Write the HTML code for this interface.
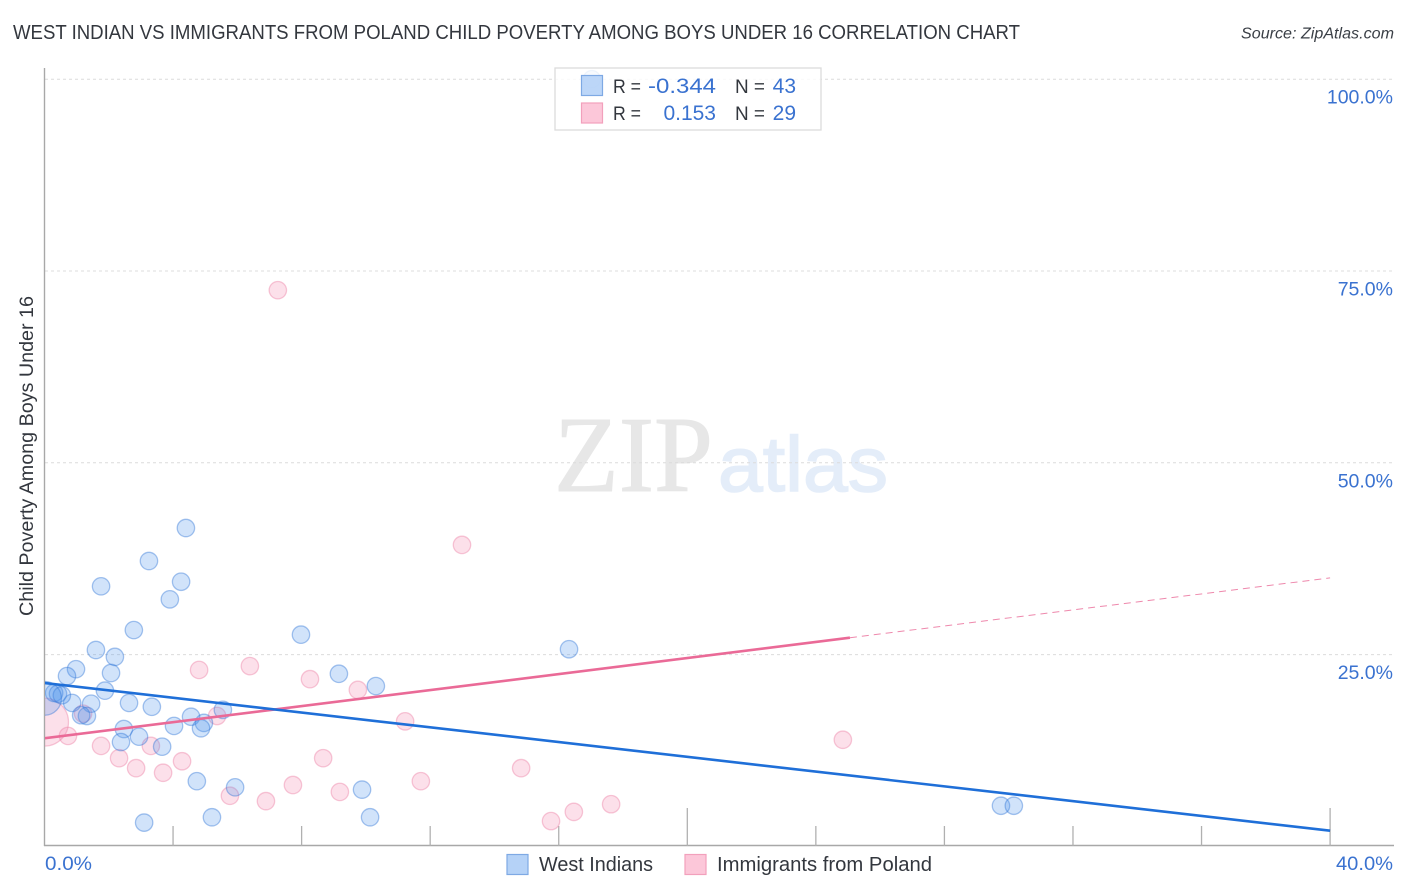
<!DOCTYPE html>
<html lang="en">
<head>
<meta charset="utf-8">
<title>West Indian vs Immigrants from Poland Child Poverty Correlation Chart</title>
<style>
html,body{margin:0;padding:0;background:#fff;}
svg{display:block;font-family:"Liberation Sans",sans-serif;}
</style>
</head>
<body>
<svg id="chart" width="1406" height="892" viewBox="0 0 1406 892" xmlns="http://www.w3.org/2000/svg">
  <defs>
    <clipPath id="plot-clip"><rect x="45" y="60" width="1349" height="786"/></clipPath>
  </defs>
  <rect width="1406" height="892" fill="#fff"/>
  <text x="13" y="39" font-size="20" fill="#33373e" textLength="1007" lengthAdjust="spacingAndGlyphs">WEST INDIAN VS IMMIGRANTS FROM POLAND CHILD POVERTY AMONG BOYS UNDER 16 CORRELATION CHART</text>
  <text x="1241" y="38.5" font-size="15.5" font-style="italic" fill="#3a3f46" textLength="153" lengthAdjust="spacingAndGlyphs">Source: ZipAtlas.com</text>

  <text x="554" y="491" font-family="'Liberation Serif',serif" font-size="108" fill="#e7e7e7" stroke="#e7e7e7" stroke-width="1" textLength="159" lengthAdjust="spacingAndGlyphs">ZIP</text>
  <text x="718" y="491" font-size="78" fill="#e4edf9" stroke="#e4edf9" stroke-width="1.5" textLength="170" lengthAdjust="spacingAndGlyphs">atlas</text>

  <g id="grid"></g>
  <g id="axes">
    <line x1="44.5" y1="68" x2="44.5" y2="846" stroke="#a8a8a8" stroke-width="1.4"/>
    <line x1="44" y1="845.5" x2="1394" y2="845.5" stroke="#a8a8a8" stroke-width="1.4"/>
  </g>
  <g id="x-ticks"></g>
  <g id="points" clip-path="url(#plot-clip)"></g>
  <g id="trends" clip-path="url(#plot-clip)"></g>
  <g id="y-labels"></g>
  <g id="x-labels"></g>

  <text transform="translate(33,616) rotate(-90)" font-size="19" fill="#33373e" textLength="320" lengthAdjust="spacingAndGlyphs">Child Poverty Among Boys Under 16</text>

  <g>
    <rect x="555" y="68" width="266" height="62" fill="#fff" fill-opacity="0.82" stroke="#dcdcdc" stroke-width="1.3"/>
    <rect x="581.5" y="75.5" width="21" height="20" fill="#b5d2f7" fill-opacity="0.9" stroke="#7ea9e4" stroke-width="1.2"/>
    <rect x="581.5" y="103" width="21" height="20" fill="#fcc7d9" stroke="#f2a0bc" stroke-width="1.2"/>
    <text x="613" y="93" font-size="19" fill="#33373e" textLength="28" lengthAdjust="spacingAndGlyphs">R =</text>
    <text x="648" y="93" font-size="21" fill="#3a72d0" textLength="68" lengthAdjust="spacingAndGlyphs">-0.344</text>
    <text x="735" y="93" font-size="19" fill="#33373e" textLength="30" lengthAdjust="spacingAndGlyphs">N =</text>
    <text x="796" y="93" font-size="21" fill="#3a72d0" text-anchor="end">43</text>
    <text x="613" y="120" font-size="19" fill="#33373e" textLength="28" lengthAdjust="spacingAndGlyphs">R =</text>
    <text x="716" y="120" font-size="21" fill="#3a72d0" text-anchor="end">0.153</text>
    <text x="735" y="120" font-size="19" fill="#33373e" textLength="30" lengthAdjust="spacingAndGlyphs">N =</text>
    <text x="796" y="120" font-size="21" fill="#3a72d0" text-anchor="end">29</text>
  </g>

  <g>
    <g>
      <rect x="507" y="854.5" width="21" height="20" fill="#b5d2f7" stroke="#7ea9e4" stroke-width="1.2"/>
      <text x="539" y="871" font-size="20" fill="#33373e" textLength="114" lengthAdjust="spacingAndGlyphs">West Indians</text>
    </g>
    <g>
      <rect x="685" y="854.5" width="21" height="20" fill="#fcc7d9" stroke="#f2a0bc" stroke-width="1.2"/>
      <text x="717" y="871" font-size="20" fill="#33373e" textLength="215" lengthAdjust="spacingAndGlyphs">Immigrants from Poland</text>
    </g>
  </g>
</svg>
<script>
// Axis data
const xTickValues = [0, 4, 8, 12, 16, 20, 24, 28, 32, 36, 40];
const xMajorTicks = [20, 40];
const xLabelValues = ['0.0%', '40.0%'];
const yTickValues = [25, 50, 75, 100];
const yTickLabels = ['25.0%', '50.0%', '75.0%', '100.0%'];

// West Indians: child poverty rate vs x share (both in percent)
const westIndiansX = [4.40,3.25,1.76,4.25,3.90,2.78,1.60,2.19,2.07,0.98,0.70,1.88,1.45,0.86,2.63,3.34,1.32,1.14,2.47,2.38,2.94,3.66,4.03,4.56,4.96,4.87,5.55,4.74,5.93,5.21,3.10,7.98,9.16,10.31,9.88,10.13,16.32,29.76,30.16,0.30,0.42,0.54,0.00,17.03];
const westIndiansY = [41.5,37.2,33.9,34.5,32.2,28.2,25.6,24.7,22.6,23.1,22.2,20.3,18.6,18.7,18.7,18.2,17.0,17.1,15.3,13.6,14.3,13.0,15.7,16.9,16.1,15.4,17.8,8.5,7.7,3.8,3.1,27.6,22.5,20.9,7.4,3.8,25.7,5.3,5.3,20.0,19.9,19.7,19.3,100];
const westIndiansWeight = [1,1,1,1,1,1,1,1,1,1,1,1,1,1,1,1,1,1,1,1,1,1,1,1,1,1,1,1,1,1,1,1,1,1,1,1,1,1,1,1,1,1,3.8,1];

// Immigrants from Poland
const polandX = [0.73,1.76,2.32,2.85,3.69,4.28,3.31,4.81,6.39,5.37,5.77,6.89,7.73,1.20,7.26,12.99,8.26,9.75,11.22,8.67,9.19,11.71,14.83,15.76,16.47,17.63,24.84,0.00];
const polandY = [14.4,13.1,11.5,10.2,9.6,11.1,13.1,23.0,23.5,17.0,6.6,5.9,8.0,17.3,72.5,39.3,21.8,20.4,16.3,11.5,7.1,8.5,10.2,3.3,4.5,5.5,13.9,16.2];
const polandWeight = [1,1,1,1,1,1,1,1,1,1,1,1,1,1,1,1,1,1,1,1,1,1,1,1,1,1,1,7.6];

// Trend lines: [x start, x end] and [y start, y end], in percent
const westTrendX = [0, 40];
const westTrendY = [21.3, 2.05];
const polandTrendX = [0, 25.06];
const polandTrendY = [14.1, 27.2];
const polandDashX = [25.06, 40];
const polandDashY = [27.2, 35.0];

// Axis functions
const xScale = v => 44.5 + v * 32.14;
const yScale = v => 846.4 - v * 7.672;
const radius = w => 8.7 * Math.sqrt(w);

const NS = 'http://www.w3.org/2000/svg';
function make(tag, parent, attrs) {
  const el = document.createElementNS(NS, tag);
  for (const k in attrs) el.setAttribute(k, attrs[k]);
  parent.appendChild(el);
  return el;
}

const gridG = document.getElementById('grid');
yTickValues.forEach(v => {
  const el = make('line', gridG, {x1: 45, x2: 1394, y1: yScale(v), y2: yScale(v), stroke: '#dcdcdc', 'stroke-width': 1, 'stroke-dasharray': '3 3'});
  
  
});

const tickG = document.getElementById('x-ticks');
xTickValues.slice(1).forEach(v => {
  const major = xMajorTicks.includes(v);
  const el = make('line', tickG, {x1: xScale(v), x2: xScale(v), y1: major ? 808 : 826, y2: 846, stroke: '#b0b0b0', 'stroke-width': 1.3});
  
  
});

const yLabelG = document.getElementById('y-labels');
yTickValues.forEach((v, i) => {
  const el = make('text', yLabelG, {x: 1393, y: yScale(v) + 24.5, 'font-size': 19.5, fill: '#3a72d0', 'text-anchor': 'end'});
  el.textContent = yTickLabels[i];
  
  
});

const xLabelG = document.getElementById('x-labels');
xLabelValues.forEach((t, i) => {
  const el = make('text', xLabelG, {x: i === 0 ? 45 : 1336, y: 870, 'font-size': 19.5, fill: '#3a72d0', textLength: i === 0 ? 47 : 57, lengthAdjust: 'spacingAndGlyphs'});
  el.textContent = t;
  
  
});

const pointsG = document.getElementById('points');
polandX.forEach((x, i) => {
  const el = make('circle', pointsG, {cx: xScale(x), cy: yScale(polandY[i]), r: radius(polandWeight[i]), fill: '#f58fb2', 'fill-opacity': 0.28, stroke: '#ee84a8', 'stroke-opacity': 0.45, 'stroke-width': 1.3});
  
  
});
westIndiansX.forEach((x, i) => {
  const el = make('circle', pointsG, {cx: xScale(x), cy: yScale(westIndiansY[i]), r: radius(westIndiansWeight[i]), fill: '#4f94ea', 'fill-opacity': 0.26, stroke: '#2f74d6', 'stroke-opacity': 0.42, 'stroke-width': 1.3});
  
  
});

const trendG = document.getElementById('trends');
const pinkLine = make('line', trendG, {x1: xScale(polandTrendX[0]), y1: yScale(polandTrendY[0]), x2: xScale(polandTrendX[1]), y2: yScale(polandTrendY[1]), stroke: '#ea6a97', 'stroke-width': 2.6});


const pinkDash = make('line', trendG, {x1: xScale(polandDashX[0]), y1: yScale(polandDashY[0]), x2: xScale(polandDashX[1]), y2: yScale(polandDashY[1]), stroke: '#ea6a97', 'stroke-width': 1, 'stroke-dasharray': '7 5', 'stroke-opacity': 0.8});


const blueLine = make('line', trendG, {x1: xScale(westTrendX[0]), y1: yScale(westTrendY[0]), x2: xScale(westTrendX[1]), y2: yScale(westTrendY[1]), stroke: '#1f6fd8', 'stroke-width': 2.6});


</script>
</body>
</html>
